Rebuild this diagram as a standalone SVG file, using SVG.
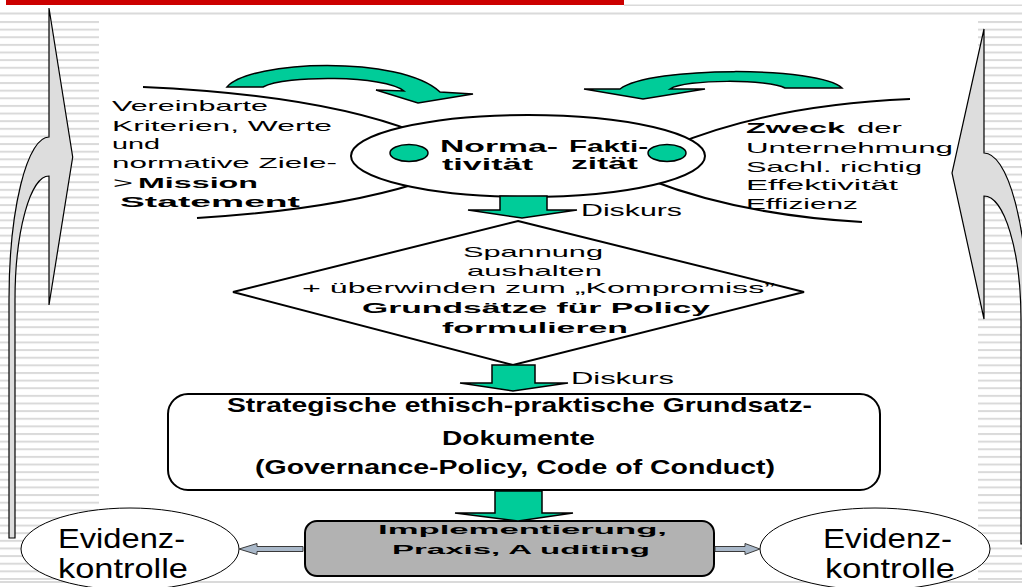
<svg xmlns="http://www.w3.org/2000/svg" width="1022" height="587" viewBox="0 0 1022 587">
  <style>
    .t { font-family: "Liberation Sans", Arial, sans-serif; fill: #000; }
    .b { font-weight: bold; }
    .line { fill: none; stroke: #000; stroke-width: 2; }
    .teal { fill: #00cc99; stroke: #000; stroke-width: 1.5; stroke-linejoin: miter; }
    .big-grey { fill: #dddddd; stroke: #000; stroke-width: 1.2; }
    .small-grey { fill: #a9b8c9; stroke: #3a3a3a; stroke-width: 1; }
    .white { fill: #fff; stroke: #000; stroke-width: 2; }
  </style>
  <defs>
    <pattern id="stripes" x="0" y="21" width="100" height="7.63" patternUnits="userSpaceOnUse">
      <rect x="0" y="0" width="100" height="2" fill="#dadada"/>
    </pattern>
  </defs>

  <!-- page background -->
  <g id="background">
    <rect x="0" y="0" width="1022" height="587" fill="#fff"/>
    <rect x="6" y="0" width="618" height="5" fill="#cc0000"/>
    <rect x="624" y="4.5" width="398" height="1.5" fill="#dadada"/>
    <rect x="0" y="12.5" width="1022" height="2" fill="#dadada"/>
    <rect x="0" y="20" width="99" height="560" fill="url(#stripes)"/>
    <rect x="978" y="20" width="44" height="560" fill="url(#stripes)"/>
    <rect x="0" y="581" width="1022" height="2" fill="#dadada"/>
  </g>

  <!-- large curved feedback arrows at both sides -->
  <g id="feedback-left">
    <path class="big-grey" d="M49,8 L72.7,157 L49,305 L49,176 A34,124 0 0 0 15,300 L15,538 L9,538 L9,300 A40,163 0 0 1 49,137 Z"/>
  </g>
  <g id="feedback-right">
    <path class="big-grey" d="M984,29 L984,153 A44,167 0 0 1 1028,320 L1028,544 L1021,544 L1021,320 A37,124 0 0 0 984,196 L984,319 L952,173 Z"/>
  </g>

  <!-- lens outlines around the two text blocks -->
  <g id="lens-left">
    <path class="line" d="M143,87 Q320,95 415,132"/>
    <path class="line" d="M197,218 Q330,210 415,184"/>
  </g>
  <g id="lens-right">
    <path class="line" d="M672,146 Q770,105 910,99"/>
    <path class="line" d="M650,180 Q740,215 862,222"/>
  </g>

  <!-- circular teal arrows -->
  <g id="cycle-left">
    <path class="teal" d="M227,87 C250,60 400,55 440,92 L473,94 L418,103 L376,90 L404,91 C385,75 285,75 263,87 Z"/>
  </g>
  <g id="cycle-right">
    <path class="teal" d="M842,88 C820,66 650,66 620,89 L584,89 L643,99 L705,89 L670,89 C685,79 770,79 785,88 Z"/>
  </g>

  <!-- left text block -->
  <g id="werte">
    <text class="t" x="112" y="111" font-size="15" textLength="156" lengthAdjust="spacingAndGlyphs">Vereinbarte</text>
    <text class="t" x="112" y="131" font-size="15" textLength="220" lengthAdjust="spacingAndGlyphs">Kriterien,  Werte</text>
    <text class="t" x="112" y="149" font-size="15" textLength="48" lengthAdjust="spacingAndGlyphs">und</text>
    <text class="t" x="112" y="168" font-size="15" textLength="225" lengthAdjust="spacingAndGlyphs">normative Ziele-</text>
    <text class="t" x="113" y="188" font-size="15" textLength="20" lengthAdjust="spacingAndGlyphs">&gt;</text>
    <text class="t b" x="138" y="188" font-size="15" textLength="120" lengthAdjust="spacingAndGlyphs">Mission</text>
    <text class="t b" x="120" y="207" font-size="15" textLength="180" lengthAdjust="spacingAndGlyphs">Statement</text>
  </g>

  <!-- right text block -->
  <g id="zweck">
    <text class="t b" x="746" y="133" font-size="15" textLength="99" lengthAdjust="spacingAndGlyphs">Zweck</text>
    <text class="t" x="857" y="133" font-size="15" textLength="45" lengthAdjust="spacingAndGlyphs">der</text>
    <text class="t" x="746" y="153" font-size="15" textLength="207" lengthAdjust="spacingAndGlyphs">Unternehmung</text>
    <text class="t" x="746" y="172" font-size="15" textLength="176" lengthAdjust="spacingAndGlyphs">Sachl. richtig</text>
    <text class="t" x="746" y="190" font-size="15" textLength="152" lengthAdjust="spacingAndGlyphs">Effektivität</text>
    <text class="t" x="746" y="209" font-size="15" textLength="112" lengthAdjust="spacingAndGlyphs">Effizienz</text>
  </g>

  <!-- central ellipse -->
  <g id="norm-fakt">
    <ellipse class="white" cx="528" cy="156" rx="177" ry="41"/>
    <ellipse class="teal" cx="409" cy="153" rx="19" ry="8.5" stroke-width="2"/>
    <ellipse class="teal" cx="667" cy="153" rx="19" ry="8.5" stroke-width="2"/>
    <text class="t b" x="440" y="152" font-size="17" textLength="118" lengthAdjust="spacingAndGlyphs">Norma-</text>
    <text class="t b" x="442" y="170" font-size="17" textLength="91" lengthAdjust="spacingAndGlyphs">tivität</text>
    <text class="t b" x="569" y="152" font-size="17" textLength="79" lengthAdjust="spacingAndGlyphs">Fakti-</text>
    <text class="t b" x="571" y="169" font-size="17" textLength="67" lengthAdjust="spacingAndGlyphs">zität</text>
  </g>

  <!-- decision diamond -->
  <g id="spannung">
    <polygon class="white" points="518,221 804,292 513,365 233,292"/>
    <text class="t" x="463" y="257" font-size="15" textLength="140" lengthAdjust="spacingAndGlyphs">Spannung</text>
    <text class="t" x="467" y="276" font-size="15" textLength="135" lengthAdjust="spacingAndGlyphs">aushalten</text>
    <text class="t" x="302" y="293" font-size="15" textLength="473" lengthAdjust="spacingAndGlyphs">+ überwinden zum „Kompromiss”</text>
    <text class="t b" x="362" y="313" font-size="15" textLength="348" lengthAdjust="spacingAndGlyphs">Grundsätze für Policy</text>
    <text class="t b" x="442" y="333" font-size="15" textLength="186" lengthAdjust="spacingAndGlyphs">formulieren</text>
  </g>

  <!-- policy documents -->
  <g id="grundsatz">
    <rect class="white" x="168" y="394" width="712" height="96" rx="20" ry="20"/>
    <text class="t b" x="227" y="412" font-size="21" textLength="585" lengthAdjust="spacingAndGlyphs">Strategische ethisch-praktische Grundsatz-</text>
    <text class="t b" x="442" y="445" font-size="21" textLength="153" lengthAdjust="spacingAndGlyphs">Dokumente</text>
    <text class="t b" x="255" y="474" font-size="21" textLength="520" lengthAdjust="spacingAndGlyphs">(Governance-Policy, Code of Conduct)</text>
  </g>

  <!-- implementation box -->
  <g id="implementierung">
    <rect x="305" y="521" width="409" height="55" rx="12" ry="12" fill="#b2b2b2" stroke="#000" stroke-width="2"/>
    <text class="t b" x="378" y="534" font-size="12.5" textLength="289" lengthAdjust="spacingAndGlyphs">Implementierung,</text>
    <text class="t b" x="392" y="554" font-size="12.5" textLength="258" lengthAdjust="spacingAndGlyphs">Praxis, A uditing</text>
  </g>

  <!-- evidence checks -->
  <g id="evidenz-left">
    <ellipse cx="130" cy="549" rx="109" ry="41" fill="#fff" stroke="#000" stroke-width="1"/>
    <text class="t" x="58" y="548" font-size="28" textLength="127" lengthAdjust="spacingAndGlyphs">Evidenz-</text>
    <text class="t" x="58" y="578" font-size="28" textLength="130" lengthAdjust="spacingAndGlyphs">kontrolle</text>
  </g>
  <g id="evidenz-right">
    <ellipse cx="875" cy="549" rx="115" ry="41" fill="#fff" stroke="#000" stroke-width="1"/>
    <text class="t" x="823" y="548" font-size="28" textLength="129" lengthAdjust="spacingAndGlyphs">Evidenz-</text>
    <text class="t" x="825" y="578" font-size="28" textLength="130" lengthAdjust="spacingAndGlyphs">kontrolle</text>
  </g>

  <!-- connectors -->
  <g id="connectors">
    <polygon class="teal" stroke-width="2" points="500,196 547,196 547,210 577,210 522,218 468,210 500,210"/>
    <text class="t" x="581" y="216" font-size="16" textLength="101" lengthAdjust="spacingAndGlyphs">Diskurs</text>
    <polygon class="teal" stroke-width="2" points="492,365 535,365 535,383 568,383 513,391 460,383 492,383"/>
    <text class="t" x="571" y="384" font-size="16" textLength="103" lengthAdjust="spacingAndGlyphs">Diskurs</text>
    <polygon class="teal" stroke-width="2" points="495,491 542,491 542,513 573,513 518,521 455,513 495,513"/>
    <polygon class="small-grey" points="303,546.5 257,546.5 257,543.5 239,549 257,554.5 257,551.5 303,551.5"/>
    <polygon class="small-grey" points="715,546.5 745,546.5 745,543.5 760,549 745,554.5 745,551.5 715,551.5"/>
  </g>
</svg>
